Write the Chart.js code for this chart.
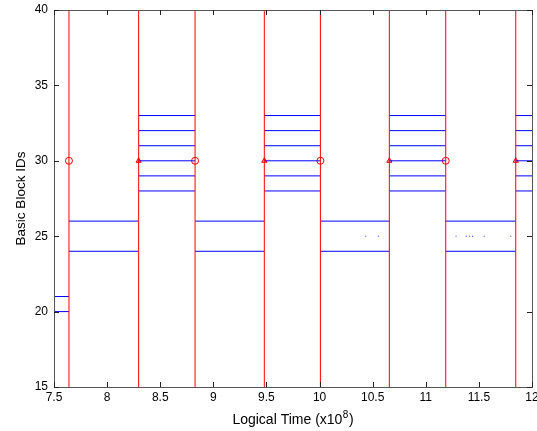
<!DOCTYPE html>
<html>
<head>
<meta charset="utf-8">
<script src="https://cdn.jsdelivr.net/npm/chart.js@4"></script>
<style>
  html, body { margin: 0; padding: 0; background: #fff; }
  #wrap { width: 537px; height: 431px; }
</style>
</head>
<body>
<div id="wrap"><canvas id="chart"></canvas></div>
<script>
// phase boundaries (red lines), in units of 1e8 logical time
const boundaries = [7.641, 8.297, 8.828, 9.48, 10.008, 10.657, 11.188, 11.847];
const circleTimes = [7.641, 8.828, 10.008, 11.188];
const triangleTimes = [8.297, 9.48, 10.657, 11.847];
const markerId = 30;

// blue horizontal segments: start, end, basic block ids
const segStarts = [7.5, 7.641, 8.297, 8.828, 9.48, 10.008, 10.657, 11.188, 11.847];
const segEnds = [7.641, 8.297, 8.828, 9.48, 10.008, 10.657, 11.188, 11.847, 12];
const segIds = [
    [20, 21],
    [24, 26],
    [28, 29, 30, 31, 32, 33],
    [24, 26],
    [28, 29, 30, 31, 32, 33],
    [24, 26],
    [28, 29, 30, 31, 32, 33],
    [24, 26],
    [28, 29, 30, 31, 32, 33]
];

// sparse hits on block 25
const sparseTimes = [10.435, 10.554, 11.285, 11.38, 11.41, 11.44, 11.55, 11.80];
const sparseId = 25;

const xTicks = [7.5, 8, 8.5, 9, 9.5, 10, 10.5, 11, 11.5, 12];
const yTicks = [15, 20, 25, 30, 35, 40];

const FONT = '"Liberation Sans", Arial, sans-serif';

const datasets = [];

// red phase lines
boundaries.forEach(b => {
    datasets.push({
        data: [{ x: b, y: 15 }, { x: b, y: 40 }],
        showLine: true,
        borderColor: '#ff0000',
        borderWidth: 1,
        pointRadius: 0
    });
});

// blue block segments
segIds.forEach((ids, i) => {
    ids.forEach(id => {
        datasets.push({
            data: [{ x: segStarts[i], y: id }, { x: segEnds[i], y: id }],
            showLine: true,
            borderColor: '#0000ff',
            borderWidth: 1,
            pointRadius: 0
        });
    });
});

datasets.push({
    data: sparseTimes.map(t => ({ x: t, y: sparseId })),
    pointStyle: 'rect',
    pointRadius: 0.7,
    borderWidth: 0,
    backgroundColor: '#3333ff'
});
datasets.push({
    data: circleTimes.map(t => ({ x: t, y: markerId })),
    pointStyle: 'circle',
    pointRadius: 3.5,
    borderWidth: 1,
    borderColor: '#ff0000',
    backgroundColor: 'rgba(0,0,0,0)'
});
datasets.push({
    data: triangleTimes.map(t => ({ x: t, y: markerId })),
    pointStyle: 'triangle',
    pointRadius: 3,
    borderWidth: 1,
    borderColor: '#ff0000',
    backgroundColor: 'rgba(255,0,0,0.4)'
});

// MATLAB-like box, inward ticks and axis titles
const matlabAxes = {
    id: 'matlabAxes',
    afterDraw(chart) {
        const { ctx, chartArea: a, scales } = chart;
        ctx.save();
        ctx.strokeStyle = '#555';
        ctx.lineWidth = 1;
        ctx.strokeRect(Math.round(a.left) + 0.5, Math.round(a.top) + 0.5,
            Math.round(a.right - a.left), Math.round(a.bottom - a.top));
        ctx.strokeStyle = '#222';
        ctx.beginPath();
        xTicks.forEach(v => {
            const px = Math.round(scales.x.getPixelForValue(v)) + 0.5;
            ctx.moveTo(px, a.bottom); ctx.lineTo(px, a.bottom - 5);
            ctx.moveTo(px, a.top); ctx.lineTo(px, a.top + 5);
        });
        yTicks.forEach(v => {
            const py = Math.round(scales.y.getPixelForValue(v)) + 0.5;
            ctx.moveTo(a.left, py); ctx.lineTo(a.left + 5, py);
            ctx.moveTo(a.right, py); ctx.lineTo(a.right - 5, py);
        });
        ctx.stroke();

        ctx.fillStyle = '#000';
        ctx.textBaseline = 'alphabetic';
        const main = 'Logical Time (x10';
        const sup = '8';
        const close = ')';
        ctx.font = '14px ' + FONT;
        const wMain = ctx.measureText(main).width;
        const wClose = ctx.measureText(close).width;
        ctx.font = '10px ' + FONT;
        const wSup = ctx.measureText(sup).width + 1;
        const cx = (a.left + a.right) / 2;
        const sx = cx - (wMain + wSup + wClose) / 2;
        const by = 424;
        ctx.font = '14px ' + FONT;
        ctx.textAlign = 'left';
        ctx.fillText(main, sx, by);
        ctx.font = '10px ' + FONT;
        ctx.fillText(sup, sx + wMain + 0.5, by - 6);
        ctx.font = '14px ' + FONT;
        ctx.fillText(close, sx + wMain + wSup, by);

        ctx.translate(25, (a.top + a.bottom) / 2);
        ctx.rotate(-Math.PI / 2);
        ctx.textAlign = 'center';
        ctx.font = '13.5px ' + FONT;
        ctx.fillText('Basic Block IDs', 0, 0);
        ctx.restore();
    }
};

new Chart(document.getElementById('chart'), {
    type: 'scatter',
    data: { datasets },
    options: {
        responsive: true,
        maintainAspectRatio: false,
        animation: false,
        layout: { padding: { top: 10, right: 5, left: 0, bottom: 0 } },
        plugins: {
            legend: { display: false },
            tooltip: { enabled: false }
        },
        scales: {
            x: {
                type: 'linear',
                min: 7.5,
                max: 12,
                afterBuildTicks: s => { s.ticks = xTicks.map(v => ({ value: v })); },
                afterFit: s => { s.height = 44; s.paddingLeft = 0; s.paddingRight = 0; },
                grid: { display: false, drawTicks: false },
                border: { display: false },
                ticks: {
                    color: '#000',
                    padding: 3,
                    maxRotation: 0,
                    font: { family: FONT, size: 12 },
                    callback: v => String(v)
                }
            },
            y: {
                type: 'linear',
                min: 15,
                max: 40,
                afterBuildTicks: s => { s.ticks = yTicks.map(v => ({ value: v })); },
                afterFit: s => { s.width = 54; s.paddingTop = 0; s.paddingBottom = 0; },
                grid: { display: false, drawTicks: false },
                border: { display: false },
                ticks: {
                    color: '#000',
                    padding: 6,
                    font: { family: FONT, size: 12 },
                    callback: v => String(v)
                }
            }
        }
    },
    plugins: [matlabAxes]
});
</script>
</body>
</html>
